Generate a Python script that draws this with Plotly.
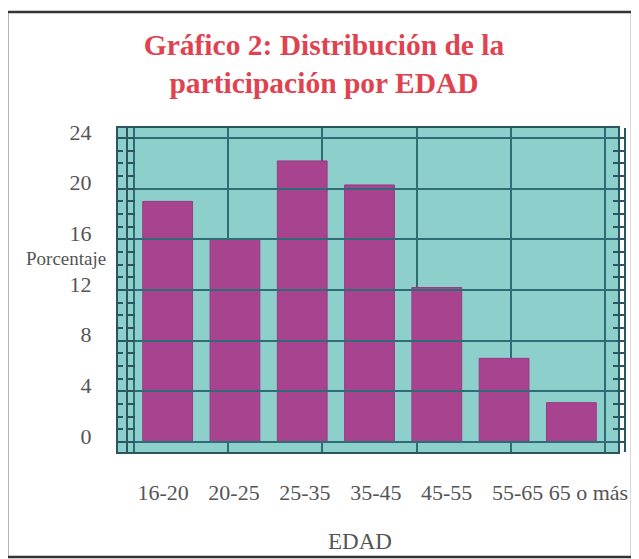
import plotly.graph_objects as go

# datos
edades = ["16-20", "20-25", "25-35", "35-45", "45-55", "55-65", "65 o más"]
porcentaje = [19.0, 16.0, 22.2, 20.3, 12.2, 6.6, 3.1]
y_ticks = [0, 4, 8, 12, 16, 20, 24]

n = len(edades)
pos = list(range(n))
# 5 divisiones verticales de la rejilla sobre el ancho de las categorias
grid_x = [-0.5 + k * n / 5 for k in range(6)]

teal = "#8dcfcb"
grid = "#2f6c76"
serif = "Liberation Serif"

fig = go.Figure()
fig.add_trace(go.Bar(x=pos, y=porcentaje, width=0.74,
                     marker=dict(color="#a8438f", line=dict(color="#9a3a85", width=1)),
                     showlegend=False))
# traza invisible solo para las etiquetas de categoria
fig.add_trace(go.Scatter(x=edades, y=porcentaje, mode="none", xaxis="x3",
                         showlegend=False, hoverinfo="skip"))

# la pagina html tiene 8px de margen, por eso la figura es 8px mas chica
fig.update_layout(
    width=631, height=551,
    margin=dict(l=110, r=10, t=120, b=107),
    paper_bgcolor="white", plot_bgcolor="rgba(0,0,0,0)",
    font=dict(family=serif, color="#555555"),
    title=dict(text="Gráfico 2: Distribución de la<br>participación por EDAD",
               font=dict(family=serif, size=29.5, color="#e0434f", weight="bold"),
               x=0.5008, xref="container", xanchor="center",
               y=0.915, yref="container", yanchor="top"),
    xaxis=dict(domain=[0, 500 / 511], range=[-0.738, 6.693],
               tickmode="array", tickvals=grid_x, showticklabels=False,
               showgrid=True, gridcolor=grid, gridwidth=1.5, zeroline=False,
               showline=True, linecolor="#2b5560", linewidth=2, mirror=True,
               ticks="", automargin=False),
    xaxis3=dict(domain=[0.019, 0.99], anchor="y", type="category",
                range=[-0.5, n - 0.5], showgrid=False, showline=False, zeroline=False,
                ticks="", ticklabelstandoff=25, automargin=False,
                tickfont=dict(family=serif, size=22, color="#555555")),
    yaxis=dict(range=[-0.8, 24.8], tickmode="array", tickvals=y_ticks,
               showgrid=True, gridcolor=grid, gridwidth=1.5, zeroline=False,
               showline=True, linecolor="#2b5560", linewidth=2, mirror="allticks",
               ticks="inside", ticklen=7, tickwidth=2, tickcolor="#2b5560",
               minor=dict(dtick=1, ticks="inside", ticklen=5, tickwidth=1.5,
                          tickcolor="#2b5560", showgrid=False),
               ticklabelstandoff=20, ticklabelshift=-6, automargin=False,
               tickfont=dict(family=serif, size=22, color="#555555")),
)

# fondo turquesa del area del grafico
fig.add_shape(type="rect", xref="x domain", yref="y domain", x0=0, x1=1, y0=0, y1=1,
              fillcolor=teal, line=dict(width=0), layer="below")
# marco exterior
fig.add_shape(type="rect", xref="paper", yref="paper",
              x0=-0.217, x1=1.006, y0=-0.324, y1=1.358,
              line=dict(color="#333333", width=2.5))

fig.add_annotation(text="Porcentaje", xref="paper", yref="paper", x=-0.102, y=0.598,
                   xanchor="center", yanchor="middle", showarrow=False,
                   font=dict(family=serif, size=19, color="#555555"))
fig.add_annotation(text="EDAD", xref="paper", yref="paper", x=0.4736, y=-0.275,
                   xanchor="center", yanchor="middle", showarrow=False,
                   font=dict(family=serif, size=23, color="#555555"))

fig.write_html("out.html")
